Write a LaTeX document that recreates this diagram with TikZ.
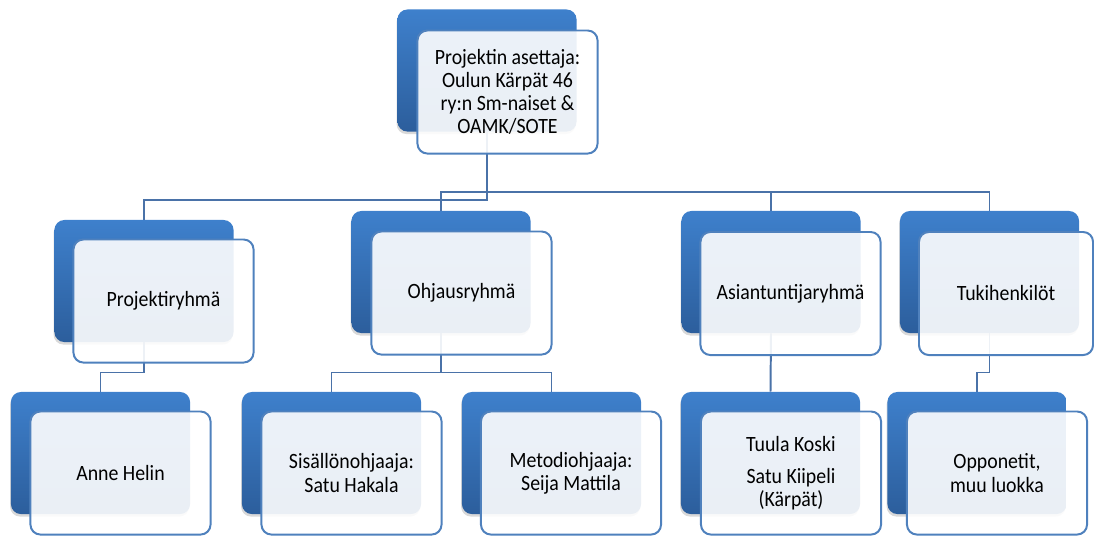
\documentclass[tikz,border=0pt]{standalone}
\usepackage{fontspec}
\setmainfont{Carlito}[FakeStretch=0.91]
\usetikzlibrary{shadows}
\usetikzlibrary{backgrounds}
\definecolor{boxtop}{RGB}{62,128,204}
\definecolor{boxbot}{RGB}{44,94,156}
\definecolor{edgeblue}{RGB}{79,129,189}
\definecolor{linkblue}{RGB}{74,114,168}

\begin{document}
\begin{tikzpicture}[x=0.025cm, y=-0.025cm,
    back/.style={rounded corners=7pt, minimum width=4.475cm, minimum height=3.05cm, inner sep=0pt,
        top color=boxtop, bottom color=boxbot,
        drop shadow={shadow xshift=-0.6pt, shadow yshift=-1.8pt, opacity=0.3}},
    front/.style={rounded corners=7pt, minimum width=4.5cm, minimum height=3.075cm, inner sep=0pt,
        draw=edgeblue, line width=1.4pt, fill=white, fill opacity=0.9, text opacity=1,
        align=center, font=\fontsize{15.5}{16.5}\selectfont},
    link/.style={draw=linkblue, line width=1.4pt}]
    \useasboundingbox (0,0) rectangle (1094,535);
    % top
    \node[back] (asettajaB) at (487,70.5) {};
    \node[front] (asettaja) at (507.5,92) {Projektin asettaja:\\Oulun Kärpät 46\\ry:n Sm-naiset \&\\OAMK/SOTE};
    % groups
    \node[back] (projB) at (144,281) {};
    \node[front] (proj) at (163.5,301) {Projektiryhmä};
    \node[back] (ohjB) at (441,272) {};
    \node[front] (ohj) at (461.5,293) {Ohjausryhmä};
    \node[back] (asiaB) at (771,272) {};
    \node[front] (asia) at (790.5,293.5) {Asiantuntijaryhmä};
    \node[back] (tukiB) at (989.5,272) {};
    \node[front, minimum width=4.35cm] (tuki) at (1006,293.5) {Tukihenkilöt};
    % people
    \node[back] (anneB) at (100.5,453) {};
    \node[front] (anne) at (120.5,473) {Anne Helin};
    \node[back] (sisB) at (331.5,453) {};
    \node[front] (sis) at (351.5,473) {Sisällönohjaaja:\\Satu Hakala};
    \node[back] (metB) at (551.5,453) {};
    \node[front] (met) at (571,473) {Metodiohjaaja:\\Seija Mattila};
    \node[back] (tuulaB) at (770.5,453) {};
    \node[front] (tuula) at (791,473) {Tuula Koski\\[6.5pt]Satu Kiipeli\\(Kärpät)};
    \node[back] (oppB) at (977,453) {};
    \node[front] (opp) at (997,473) {Opponetit,\\muu luokka};
    % connectors
    \coordinate (bus1) at (0,200);
    \coordinate (bus2) at (0,192);
    \coordinate (bus3) at (0,372.5);
    \begin{scope}[on background layer]
    \draw[link] (asettajaB.south) -- (asettajaB.south |- bus1) -| (projB.north);
    \draw[link] (asettajaB.south) -- (asettajaB.south |- bus2) -| (ohjB.north);
    \draw[link] (asettajaB.south |- bus2) -| (asiaB.north);
    \draw[link] (asettajaB.south |- bus2) -| (tukiB.north);
    \draw[link] (projB.south) -- (projB.south |- bus3) -| (anneB.north);
    \draw[link] (ohjB.south) -- (ohjB.south |- bus3) -| (sisB.north);
    \draw[link] (ohjB.south |- bus3) -| (metB.north);
    \draw[link] (asiaB.south) -- (tuulaB.north);
    \draw[link] (tukiB.south) -- (tukiB.south |- bus3) -| (oppB.north);
    \end{scope}
\end{tikzpicture}
\end{document}
